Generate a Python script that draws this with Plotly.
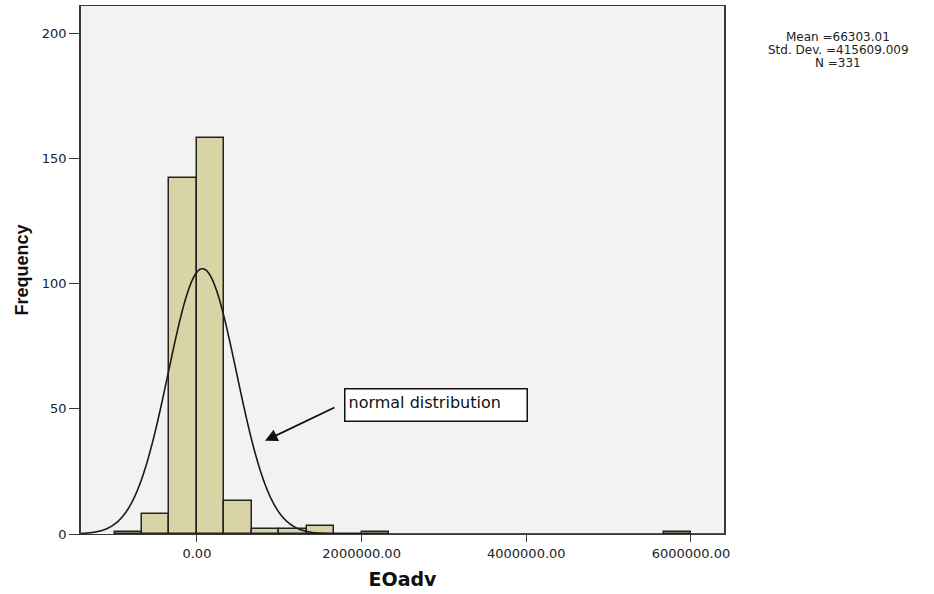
import numpy as np
import plotly.graph_objects as go

# ---- data ----
bin_width = 333333.33
bin_left_edges = [-1000000.0, -666666.67, -333333.33, 0.0, 333333.33, 666666.67,
                  1000000.0, 1333333.33, 1666666.67, 2000000.0, 5666666.67]
bin_counts = [1, 8, 142, 158, 13, 2, 2, 3, 0, 1, 1]

stat_mean = 66303.01
stat_sd = 415609.009
stat_n = 331

x_tick_vals = [0, 2000000, 4000000, 6000000]
x_tick_text = ["0.00", "2000000.00", "4000000.00", "6000000.00"]
y_tick_vals = [0, 50, 100, 150, 200]

stat_lines = ["Mean =66303.01", "Std. Dev. =415609.009", "N =331"]

x_range = [-1408000, 6401000]
y_range = [0, 210.8]

# ---- derived ----
centers = [e + bin_width / 2 for e in bin_left_edges]
curve_x = np.linspace(x_range[0], x_range[1], 800)
curve_y = stat_n * bin_width / (stat_sd * np.sqrt(2 * np.pi)) * np.exp(-0.5 * ((curve_x - stat_mean) / stat_sd) ** 2)

fig = go.Figure()
fig.add_trace(go.Bar(
    x=centers, y=bin_counts, width=[bin_width] * len(centers),
    marker=dict(color="#d8d4a6", line=dict(color="#222222", width=1.5)),
    showlegend=False, hoverinfo="x+y",
))
fig.add_trace(go.Scatter(
    x=curve_x, y=curve_y, mode="lines",
    line=dict(color="#1a1a1a", width=1.6, shape="spline"),
    showlegend=False, hoverinfo="skip",
))

tick_font = dict(family="DejaVu Sans", size=13, color="#222222")

stat_y = [0.9413, 0.9167, 0.8920]
annotations = [
    dict(text=t, xref="paper", yref="paper", x=1.178, y=yy,
         xanchor="center", yanchor="middle", showarrow=False,
         font=dict(family="DejaVu Sans", size=12, color="#222222"))
    for t, yy in zip(stat_lines, stat_y)
]
annotations += [
    dict(text="normal distribution", xref="x", yref="y", x=1788000, y=58.3,
         xanchor="left", yanchor="top", showarrow=False, align="left", valign="top",
         width=175, height=25, borderpad=3, bgcolor="white",
         bordercolor="#111111", borderwidth=1.5,
         font=dict(family="DejaVu Sans", size=16, color="#111111")),
    dict(text="", xref="x", yref="y", x=826000, y=37.2, ax=71, ay=-34,
         showarrow=True, arrowhead=2, arrowsize=1.4, arrowwidth=1.8, arrowcolor="#111111"),
]

fig.update_layout(
    width=934, height=594,
    margin=dict(l=81, r=210, t=6, b=60),
    paper_bgcolor="white",
    plot_bgcolor="#f2f2f2",
    bargap=0,
    xaxis=dict(
        range=x_range, tickmode="array", tickvals=x_tick_vals, ticktext=x_tick_text,
        showgrid=False, zeroline=False, showline=True, linecolor="#3a3a3a", linewidth=1.3,
        mirror=True, ticks="outside", ticklen=7, tickwidth=1.3, tickcolor="#3a3a3a",
        tickfont=tick_font,
        title=dict(text="EOadv", font=dict(family="DejaVu Sans", size=19, color="#111111", weight="bold"),
                   standoff=12),
    ),
    yaxis=dict(
        range=y_range, tickmode="array", tickvals=y_tick_vals,
        showgrid=False, zeroline=False, showline=True, linecolor="#3a3a3a", linewidth=1.6,
        mirror=True, ticks="outside", ticklen=10, tickwidth=1.3, tickcolor="#3a3a3a",
        tickfont=tick_font,
        title=dict(text="Frequency", font=dict(family="Liberation Sans", size=18, color="#111111", weight="bold"),
                   standoff=8),
    ),
    annotations=annotations,
)

fig.write_html("out.html")
